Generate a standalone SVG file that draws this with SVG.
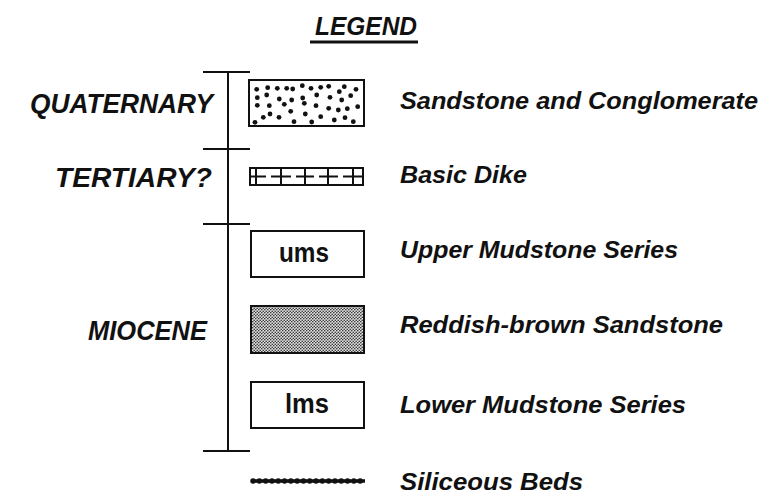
<svg xmlns="http://www.w3.org/2000/svg" width="770" height="501" viewBox="0 0 770 501">
<style>
.lbl{font-family:"Liberation Sans",Arial,sans-serif;font-style:italic;font-weight:bold;fill:#111}
.box{fill:#fff;stroke:#111;stroke-width:2}
.ln{stroke:#111;stroke-width:2;fill:none}
.code{font-family:"Liberation Sans",Arial,sans-serif;font-weight:bold;fill:#111;font-size:27px}
.dot circle{fill:#111;r:2.4px}
</style>
<defs>
<pattern id="stip" width="3" height="3" patternUnits="userSpaceOnUse">
<rect width="3" height="3" fill="#dedede"/>
<circle cx="0.75" cy="0.75" r="0.8" fill="#333"/>
<circle cx="2.25" cy="2.25" r="0.8" fill="#333"/>
</pattern>
</defs>
<rect width="770" height="501" fill="#fff"/>
<g id="title">
<text class="lbl" x="315" y="35" font-size="26" textLength="102" lengthAdjust="spacingAndGlyphs">LEGEND</text>
<line x1="310" y1="42" x2="418" y2="42" stroke="#111" stroke-width="3"/>
</g>
<g id="connectors">
<line class="ln" x1="228" y1="72" x2="228" y2="451"/>
<line class="ln" x1="203" y1="72" x2="250" y2="72"/>
<line class="ln" x1="203" y1="149" x2="250" y2="149"/>
<line class="ln" x1="203" y1="224" x2="250" y2="224"/>
<line class="ln" x1="203" y1="451" x2="250" y2="451"/>
</g>
<g id="ages">
<text class="lbl" x="30" y="113" font-size="27" textLength="183" lengthAdjust="spacingAndGlyphs">QUATERNARY</text>
<text class="lbl" x="55" y="187" font-size="27" textLength="157" lengthAdjust="spacingAndGlyphs">TERTIARY?</text>
<text class="lbl" x="88" y="340" font-size="27" textLength="119" lengthAdjust="spacingAndGlyphs">MIOCENE</text>
</g>
<g id="sandstone-conglomerate">
<rect class="box" x="249" y="80" width="115" height="46"/>
<g class="dot">
<circle cx="256.7" cy="89.3" r="2.4"/><circle cx="267.7" cy="87.7" r="2.4"/><circle cx="277.3" cy="88.3" r="2.4"/><circle cx="286.7" cy="88.3" r="2.4"/><circle cx="292.7" cy="89" r="2.4"/><circle cx="302.3" cy="85.7" r="2.4"/><circle cx="311" cy="88.3" r="2.4"/><circle cx="320.7" cy="87.3" r="2.4"/><circle cx="328.7" cy="86.3" r="2.4"/><circle cx="344.3" cy="86.7" r="2.4"/><circle cx="356" cy="89.3" r="2.4"/><circle cx="339.3" cy="91.7" r="2.4"/>
<circle cx="257.3" cy="97.7" r="2.4"/><circle cx="266.7" cy="95" r="2.4"/><circle cx="279.3" cy="99" r="2.4"/><circle cx="291.7" cy="100" r="2.4"/><circle cx="302.7" cy="98" r="2.4"/><circle cx="316.7" cy="95" r="2.4"/><circle cx="330" cy="97.3" r="2.4"/><circle cx="350.7" cy="95.7" r="2.4"/><circle cx="341.7" cy="100" r="2.4"/>
<circle cx="257.3" cy="105.3" r="2.4"/><circle cx="269.3" cy="105.7" r="2.4"/><circle cx="284.3" cy="104.3" r="2.4"/><circle cx="304.3" cy="103.3" r="2.4"/><circle cx="316" cy="105.7" r="2.4"/><circle cx="328.7" cy="108.3" r="2.4"/><circle cx="338.3" cy="110" r="2.4"/><circle cx="347.3" cy="108.7" r="2.4"/><circle cx="357.7" cy="106.7" r="2.4"/><circle cx="290.7" cy="111.3" r="2.4"/><circle cx="270" cy="114" r="2.4"/><circle cx="305.3" cy="114" r="2.4"/>
<circle cx="255" cy="122.3" r="2.4"/><circle cx="263.3" cy="117.3" r="2.4"/><circle cx="279" cy="117.3" r="2.4"/><circle cx="294" cy="121.7" r="2.4"/><circle cx="311.7" cy="122" r="2.4"/><circle cx="320.7" cy="116.7" r="2.4"/><circle cx="334.3" cy="120" r="2.4"/><circle cx="345" cy="117.7" r="2.4"/><circle cx="353.3" cy="121.7" r="2.4"/>
</g>
<text class="lbl" x="400" y="109" font-size="24" textLength="358" lengthAdjust="spacingAndGlyphs">Sandstone and Conglomerate</text>
</g>
<g id="basic-dike">
<rect class="box" x="250" y="168" width="113" height="17"/>
<path class="ln" d="M256 168V185M281 168V185M305 168V185M328 168V185M353 168V185"/>
<path class="ln" d="M250 176.5H266M271 176.5H291M296 176.5H314M319 176.5H338M343 176.5H363"/>
<text class="lbl" x="400" y="183" font-size="24" textLength="127" lengthAdjust="spacingAndGlyphs">Basic Dike</text>
</g>
<g id="upper-mudstone">
<rect class="box" x="251" y="231" width="113" height="46"/>
<text class="code" x="279" y="262" textLength="50" lengthAdjust="spacingAndGlyphs">ums</text>
<text class="lbl" x="400" y="258" font-size="24" textLength="278" lengthAdjust="spacingAndGlyphs">Upper Mudstone Series</text>
</g>
<g id="reddish-brown-sandstone">
<rect x="251" y="306" width="113" height="47" fill="url(#stip)" stroke="#111" stroke-width="2"/>
<text class="lbl" x="400" y="333" font-size="24" textLength="323" lengthAdjust="spacingAndGlyphs">Reddish-brown Sandstone</text>
</g>
<g id="lower-mudstone">
<rect class="box" x="251" y="382" width="113" height="46"/>
<text class="code" x="285" y="413" textLength="44" lengthAdjust="spacingAndGlyphs">lms</text>
<text class="lbl" x="400" y="413" font-size="24" textLength="286" lengthAdjust="spacingAndGlyphs">Lower Mudstone Series</text>
</g>
<g id="siliceous-beds">
<line x1="252" y1="481" x2="365" y2="481" stroke="#111" stroke-width="3.5"/>
<line x1="253" y1="481" x2="365" y2="481" stroke="#111" stroke-width="5.5" stroke-linecap="round" stroke-dasharray="0.1 6.2"/>
<text class="lbl" x="400" y="490" font-size="24" textLength="183" lengthAdjust="spacingAndGlyphs">Siliceous Beds</text>
</g>
</svg>
